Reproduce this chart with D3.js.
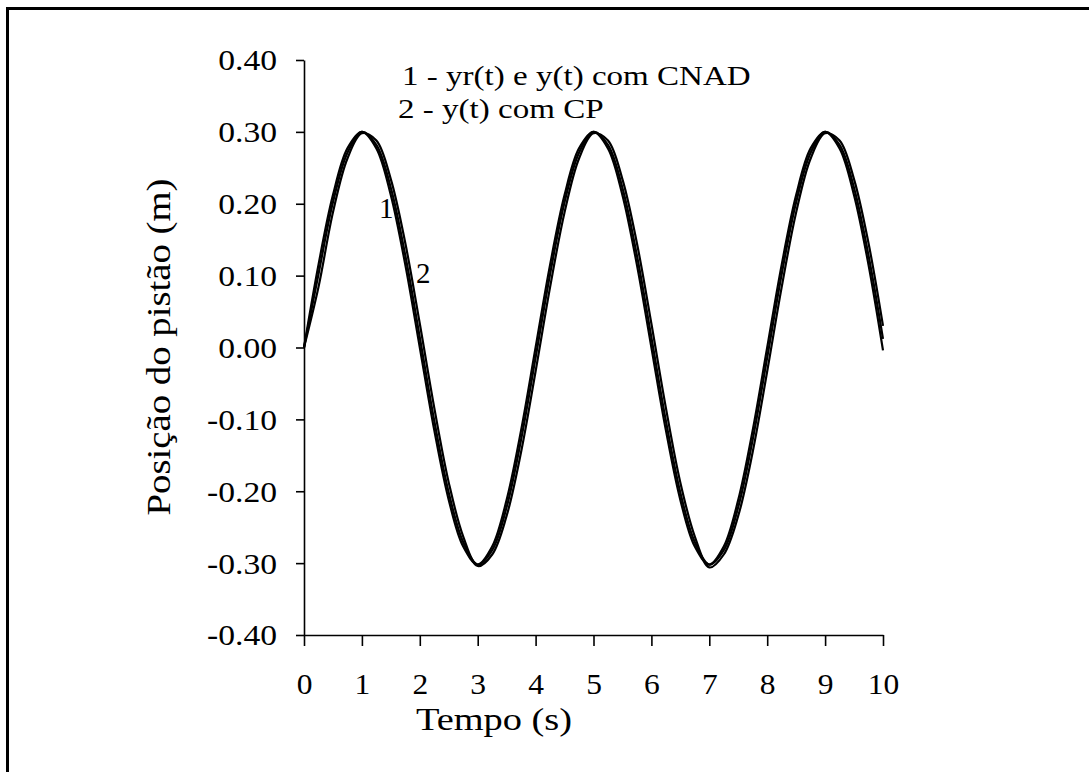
<!DOCTYPE html>
<html>
<head>
<meta charset="utf-8">
<script src="https://cdn.jsdelivr.net/npm/d3@7"></script>
<style>
  body { margin: 0; background: #fff; }
  text { font-family: "Liberation Serif", "Times New Roman", serif; fill: #000; }
</style>
</head>
<body>
<div id="chart"></div>
<script>
// sampling times (s)
var tempo = [0, 0.25, 0.5, 0.75, 1, 1.25, 1.5, 1.75, 2, 2.25, 2.5, 2.75, 3, 3.25, 3.5, 3.75, 4,
  4.25, 4.5, 4.75, 5, 5.25, 5.5, 5.75, 6, 6.25, 6.5, 6.75, 7, 7.25, 7.5, 7.75, 8,
  8.25, 8.5, 8.75, 9, 9.25, 9.5, 9.75, 10];

// 1 - yr(t), reference position
var yr = [0, 0.115, 0.212, 0.277, 0.300, 0.277, 0.212, 0.115, 0, -0.115, -0.212, -0.277, -0.302, -0.277, -0.212, -0.115, 0,
  0.115, 0.212, 0.277, 0.300, 0.277, 0.212, 0.115, 0, -0.115, -0.212, -0.277, -0.302, -0.277, -0.212, -0.115, 0,
  0.115, 0.212, 0.277, 0.300, 0.277, 0.212, 0.115, -0.004];

// 1 - y(t) com CNAD
var yCNAD = [0, 0.102, 0.202, 0.271, 0.300, 0.282, 0.222, 0.128, 0.014, -0.102, -0.202, -0.271, -0.302, -0.282, -0.222, -0.128, -0.014,
  0.102, 0.202, 0.271, 0.300, 0.282, 0.222, 0.128, 0.014, -0.102, -0.202, -0.271, -0.302, -0.282, -0.222, -0.128, -0.014,
  0.102, 0.202, 0.271, 0.300, 0.282, 0.222, 0.128, 0.012];

// 2 - y(t) com CP
var yCP = [0, 0.084, 0.188, 0.263, 0.298, 0.288, 0.234, 0.145, 0.033, -0.084, -0.188, -0.263, -0.304, -0.288, -0.234, -0.145, -0.033,
  0.084, 0.188, 0.263, 0.298, 0.288, 0.234, 0.145, 0.033, -0.084, -0.188, -0.263, -0.306, -0.288, -0.234, -0.145, -0.033,
  0.084, 0.188, 0.263, 0.298, 0.288, 0.234, 0.145, 0.030];

var xTicks = [0, 1, 2, 3, 4, 5, 6, 7, 8, 9, 10];
var yTicks = [-0.4, -0.3, -0.2, -0.1, 0, 0.1, 0.2, 0.3, 0.4];
var legendLines = ["1 - yr(t) e y(t) com CNAD", "2 - y(t) com CP"];

var width = 1089, height = 772;
var svg = d3.select("#chart").append("svg")
  .attr("width", width)
  .attr("height", height);

// outer frame (right and bottom edges fall outside the picture)
svg.append("rect")
  .attr("x", 7.5).attr("y", 8.5)
  .attr("width", 1200).attr("height", 900)
  .attr("fill", "none")
  .attr("stroke", "#000")
  .attr("stroke-width", 3);

var x = d3.scaleLinear().domain([0, 10]).range([304, 883]);
var y = d3.scaleLinear().domain([-0.4, 0.4]).range([635, 60]);

// stretch text horizontally a little (original glyphs are wide)
function widen(sel, k) {
  sel.each(function() {
    var len = this.getComputedTextLength();
    d3.select(this).attr("textLength", len * k).attr("lengthAdjust", "spacingAndGlyphs");
  });
}

var xAxis = svg.append("g")
  .attr("transform", `translate(0,${y(-0.4)})`)
  .call(d3.axisBottom(x).tickValues(xTicks).tickSize(11).tickSizeOuter(0).tickPadding(27));

var yAxis = svg.append("g")
  .attr("transform", `translate(${x(0)},0)`)
  .call(d3.axisLeft(y).tickValues(yTicks).tickSize(8).tickSizeOuter(0).tickPadding(19)
    .tickFormat(d => d.toFixed(2)));

svg.selectAll(".domain, .tick line").attr("stroke", "#000").attr("stroke-width", 1.6);
svg.selectAll(".tick text")
  .attr("font-family", "Liberation Serif")
  .attr("font-size", 30)
  .attr("fill", "#000");
yAxis.selectAll(".tick text").attr("dy", "0.33em");
xAxis.selectAll(".tick text").attr("dy", "0.7em");
widen(yAxis.selectAll(".tick text"), 1.12);
widen(xAxis.selectAll(".tick text"), 1.05);

// curves
var line = d3.line()
  .x((d, i) => x(tempo[i]))
  .y(d => y(d))
  .curve(d3.curveCatmullRom);

[yr, yCNAD, yCP].forEach(function(s) {
  svg.append("path")
    .datum(s)
    .attr("d", line)
    .attr("fill", "none")
    .attr("stroke", "#000")
    .attr("stroke-width", 2.2);
});

// curve labels
svg.append("text").attr("x", 379).attr("y", 218).attr("font-size", 29).text("1");
svg.append("text").attr("x", 416).attr("y", 283).attr("font-size", 29).text("2");

// legend text
var leg = svg.selectAll(".leg")
  .data(legendLines)
  .join("text")
  .attr("class", "leg")
  .attr("x", (d, i) => i == 0 ? 402 : 398)
  .attr("y", (d, i) => 85 + i * 33)
  .attr("font-size", 28)
  .text(d => d);
widen(leg, 1.18);

// axis titles
var xt = svg.append("text")
  .attr("x", 494).attr("y", 730)
  .attr("text-anchor", "middle")
  .attr("font-size", 32)
  .text("Tempo (s)");
widen(xt, 1.2);

var yt = svg.append("text")
  .attr("transform", "translate(170,347) rotate(-90)")
  .attr("text-anchor", "middle")
  .attr("font-size", 34)
  .text("Posição do pistão (m)");
widen(yt, 1.14);
</script>
</body>
</html>
